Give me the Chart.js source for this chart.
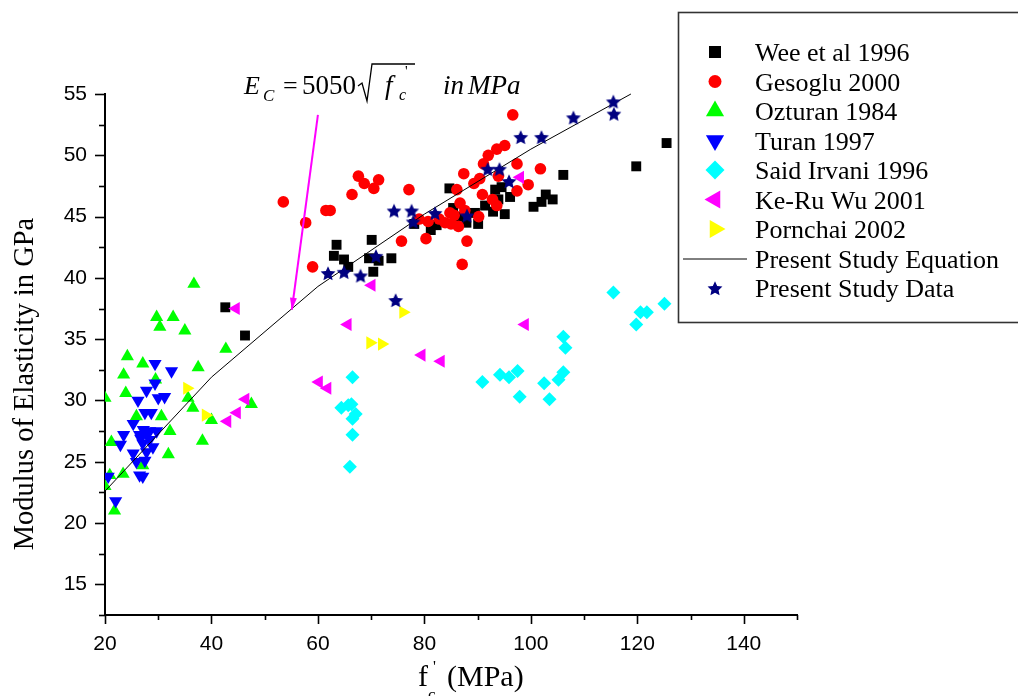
<!DOCTYPE html>
<html>
<head>
<meta charset="utf-8">
<script src="https://cdn.jsdelivr.net/npm/chart.js@4.4.1/dist/chart.umd.min.js"></script>
<style>
  html, body { margin: 0; padding: 0; background: #fff; }
  #wrap { width: 1018px; height: 696px; }
</style>
</head>
<body>
<div id="wrap"><canvas id="chart" width="1018" height="696"></canvas></div>
<script>
// values: x = f'c (MPa), y = Ec (GPa)
const weeX = [42.6,46.3,63.5,63.0,64.9,65.7,70.1,69.6,71.4,73.8,70.4,78.1,81.2,82.3,84.7,85.4,86.5,87.9,89.5,90.1,91.4,93.3,94.5,92.9,93.9,95.1,96.1,100.5,102.0,102.8,104.1,106.1,119.8,125.5];
const weeY = [37.6,35.3,42.7,41.8,41.5,40.9,43.1,41.6,41.4,41.6,40.5,44.4,43.9,44.3,47.3,45.7,45.0,44.5,45.3,44.4,45.9,47.2,47.4,45.4,46.4,45.2,46.6,45.8,46.2,46.8,46.4,48.4,49.1,51.0];

const gesX = [53.5,57.7,61.5,62.3,59.0,67.6,68.7,71.4,70.5,66.4,77.1,75.7,80.3,79.0,80.7,96.6,95.1,93.6,92.0,91.1,97.4,101.8,87.4,90.4,89.3,93.9,99.5,97.4,86.1,90.9,86.7,87.6,92.8,93.6,90.2,84.8,85.6,83.9,85.0,86.4,82.8,88.0,87.1];
const gesY = [46.2,44.5,45.5,45.5,40.9,48.3,47.7,48.0,47.3,46.8,47.2,43.0,43.2,44.8,44.6,53.3,50.8,50.5,50.0,49.3,49.3,48.9,48.5,48.1,47.7,48.3,47.6,47.1,47.2,46.8,46.1,45.5,46.4,45.9,45.0,45.3,45.1,44.5,44.4,44.2,44.8,43.0,41.1];

const ozX = [36.7,29.7,32.8,30.3,35.0,42.7,24.2,27.1,23.5,37.5,29.5,23.9,20.0,35.6,36.5,47.5,25.9,30.6,40.0,32.2,21.2,38.3,31.9,27.1,20.9,23.4,20.0,21.8];
const ozY = [39.5,36.8,36.8,36.0,35.7,34.2,33.6,33.0,32.1,32.7,31.7,30.6,30.2,30.2,29.4,29.7,28.7,28.7,28.4,27.5,26.6,26.7,25.6,24.7,23.9,24.0,23.0,21.0];

const turX = [29.4,32.5,29.4,27.8,26.2,30.0,31.2,27.5,28.7,25.3,23.5,22.9,26.5,28.4,29.7,27.1,28.4,25.3,27.8,25.9,27.5,26.5,27.1,20.6,22.0,29.0,28.0,27.2,26.7];
const turY = [33.0,32.4,31.4,30.8,30.0,30.2,30.3,29.0,29.0,28.1,27.2,26.4,27.2,27.5,27.5,26.5,26.8,25.7,25.8,25.0,25.1,23.9,23.8,23.8,21.8,26.2,27.3,27.6,26.9];

const saidX = [66.5,64.4,65.7,66.3,67.1,66.5,66.5,66.0,90.9,94.2,95.9,97.5,97.9,102.5,103.5,105.2,106.1,106.1,106.5,115.5,119.8,120.6,121.8,125.1];
const saidY = [31.9,29.4,29.6,29.7,28.9,28.5,27.2,24.6,31.5,32.1,31.9,32.4,30.3,31.4,30.1,31.7,32.3,35.2,34.3,38.8,36.2,37.2,37.2,37.9];

const keruX = [44.6,46.4,44.8,43.0,70.1,65.6,98.9,79.5,83.1,60.2,61.8,98.0];
const keruY = [37.5,30.1,29.0,28.3,39.4,36.2,36.2,33.7,33.2,31.5,31.0,48.2];

const pornX = [35.4,38.9,76.0,69.8,72.0];
const pornY = [31.0,28.8,37.2,34.7,34.6];

const eqX = [20,40,60,80,100,118.8];
const eqY = [22.6,31.9,39.3,45.2,50.5,55.0];

const starX = [61.9,64.9,68.0,70.9,74.6,74.3,77.6,77.9,82.0,88.0,91.9,94.1,95.9,98.1,102.0,108.0,115.5,115.6];
const starY = [40.4,40.5,40.2,41.8,38.2,45.5,45.5,44.6,45.3,45.1,48.9,48.9,47.9,51.5,51.5,53.1,54.4,53.4];

const xTicks = [20,40,60,80,100,120,140];
const xMinor = [30,50,70,90,110,130,150];
const yTicks = [15,20,25,30,35,40,45,50,55];
const yMinor = [12.5,17.5,22.5,27.5,32.5,37.5,42.5,47.5,52.5];

const pts = (xs, ys) => xs.map((x, i) => ({x: x, y: ys[i]}));

// filled five point star, chart.js 'star' is only an asterisk
function makeStar(r, color) {
  const c = document.createElement('canvas');
  const s = Math.ceil(r * 2 + 2);
  c.width = s; c.height = s;
  const g = c.getContext('2d');
  g.fillStyle = color;
  g.beginPath();
  for (let i = 0; i < 10; i++) {
    const rr = i % 2 ? r * 0.48 : r;
    const a = -Math.PI / 2 + i * Math.PI / 5;
    g.lineTo(s / 2 + rr * Math.cos(a), s / 2 + 1 + rr * Math.sin(a));
  }
  g.closePath();
  g.fill();
  return c;
}
const starImg = makeStar(7.8, '#000080');

const clipArea = {left: 0, bottom: 0, top: false, right: false};

function markers(label, xs, ys, color, style, radius, rot, order) {
  return {
    label: label,
    data: pts(xs, ys),
    pointStyle: style,
    pointRadius: radius,
    pointRotation: rot,
    pointBackgroundColor: color,
    pointBorderWidth: 0,
    showLine: false,
    order: order,
    clip: clipArea
  };
}

const datasets = [
  markers('Wee et al 1996', weeX, weeY, '#000000', 'rect', 7, 0, 9),
  markers('Gesoglu 2000', gesX, gesY, '#ff0000', 'circle', 5.8, 0, 8),
  markers('Ozturan 1984', ozX, ozY, '#00ff00', 'triangle', 7.6, 0, 7),
  markers('Turan 1997', turX, turY, '#0000ff', 'triangle', 7.6, 180, 6),
  markers('Said Irvani 1996', saidX, saidY, '#00ffff', 'rectRot', 7, 0, 5),
  markers('Ke-Ru Wu 2001', keruX, keruY, '#ff00ff', 'triangle', 7.6, 270, 4),
  markers('Pornchai 2002', pornX, pornY, '#ffff00', 'triangle', 7.6, 90, 3),
  {
    label: 'Present Study Equation',
    data: pts(eqX, eqY),
    showLine: true,
    borderColor: '#000',
    borderWidth: 1,
    pointRadius: 0,
    fill: false,
    tension: 0,
    order: 2,
    clip: false
  },
  markers('Present Study Data', starX, starY, '#000080', starImg, 7.8, 0, 1)
];

const serif = '"Liberation Serif", "Times New Roman", serif';
const sans = '"Liberation Sans", Arial, sans-serif';

// ticks, axis titles, equation label, arrow and the legend box
const decor = {
  id: 'decor',
  afterDraw(chart) {
    const ctx = chart.ctx;
    const xs = chart.scales.x, ys = chart.scales.y, a = chart.chartArea;
    ctx.save();
    ctx.strokeStyle = '#000';
    ctx.lineWidth = 1.6;
    xTicks.concat(xMinor).forEach(v => {
      const px = Math.round(xs.getPixelForValue(v)) + 0.5;
      const len = xTicks.includes(v) ? 9 : 5;
      ctx.beginPath(); ctx.moveTo(px, a.bottom); ctx.lineTo(px, a.bottom + len); ctx.stroke();
    });
    yTicks.concat(yMinor).forEach(v => {
      const py = Math.round(ys.getPixelForValue(v)) + 0.5;
      const len = yTicks.includes(v) ? 10 : 6;
      ctx.beginPath(); ctx.moveTo(a.left, py); ctx.lineTo(a.left - len, py); ctx.stroke();
    });

    // y title
    ctx.fillStyle = '#000';
    ctx.save();
    ctx.translate(33, 384);
    ctx.rotate(-Math.PI / 2);
    ctx.font = '28.5px ' + serif;
    ctx.textAlign = 'center';
    ctx.textBaseline = 'alphabetic';
    ctx.fillText('Modulus of Elasticity in GPa', 0, 0);
    ctx.restore();

    // x title  f'c (MPa)
    ctx.textAlign = 'left';
    ctx.textBaseline = 'alphabetic';
    ctx.font = '30px ' + serif;
    ctx.fillText('f', 418, 686);
    ctx.font = '17px ' + serif;
    ctx.fillText('c', 428, 700);
    ctx.font = '16px ' + serif;
    ctx.fillText("'", 433, 672);
    ctx.font = '30px ' + serif;
    ctx.fillText('(MPa)', 447, 686);

    // equation label
    ctx.font = 'italic 26px ' + serif;
    ctx.fillText('E', 244, 94);
    ctx.font = 'italic 17px ' + serif;
    ctx.fillText('C', 263, 101);
    ctx.font = '26px ' + serif;
    ctx.fillText('=', 283, 94);
    ctx.font = '27px ' + serif;
    ctx.fillText('5050', 302, 94);
    ctx.lineWidth = 1.3;
    ctx.beginPath();
    ctx.moveTo(358, 86); ctx.lineTo(362, 83); ctx.lineTo(367, 101); ctx.lineTo(372, 64); ctx.lineTo(415, 64);
    ctx.stroke();
    ctx.font = 'italic 27px ' + serif;
    ctx.fillText('f', 385, 94);
    ctx.font = 'italic 16px ' + serif;
    ctx.fillText('c', 399, 100);
    ctx.font = '15px ' + serif;
    ctx.fillText("'", 405, 76);
    ctx.font = 'italic 27px ' + serif;
    ctx.fillText('in', 443, 94);
    ctx.fillText('MPa', 468, 94);

    // magenta arrow onto the equation line
    const x0 = xs.getPixelForValue(60.0), y0 = ys.getPixelForValue(53.3);
    const x1 = xs.getPixelForValue(55.1), y1 = ys.getPixelForValue(37.4);
    ctx.strokeStyle = '#ff00ff';
    ctx.fillStyle = '#ff00ff';
    ctx.lineWidth = 2;
    ctx.beginPath(); ctx.moveTo(x0, y0); ctx.lineTo(x1, y1); ctx.stroke();
    const ang = Math.atan2(y1 - y0, x1 - x0);
    ctx.beginPath();
    ctx.moveTo(x1, y1);
    ctx.lineTo(x1 - 12 * Math.cos(ang) + 3.5 * Math.sin(ang), y1 - 12 * Math.sin(ang) - 3.5 * Math.cos(ang));
    ctx.lineTo(x1 - 12 * Math.cos(ang) - 3.5 * Math.sin(ang), y1 - 12 * Math.sin(ang) + 3.5 * Math.cos(ang));
    ctx.closePath();
    ctx.fill();

    // legend
    ctx.strokeStyle = '#333';
    ctx.lineWidth = 1.6;
    ctx.strokeRect(678.5, 12.5, 360, 310);
    const sizes = [8.5, 6.5, 10.5, 10.5, 9.5, 10.5, 10.5, 0, 7.8];
    ctx.font = '26px ' + serif;
    datasets.forEach((ds, i) => {
      const y = 52 + i * 29.5;
      if (ds.showLine) {
        ctx.strokeStyle = '#000';
        ctx.lineWidth = 1;
        ctx.beginPath(); ctx.moveTo(683, y + 0.5); ctx.lineTo(747, y + 0.5); ctx.stroke();
      } else {
        ctx.fillStyle = ds.pointBackgroundColor;
        Chart.helpers.drawPoint(ctx, {
          pointStyle: ds.pointStyle,
          radius: sizes[i],
          rotation: ds.pointRotation,
          borderWidth: 0
        }, 715, y);
      }
      ctx.fillStyle = '#000';
      ctx.textBaseline = 'alphabetic';
      ctx.fillText(ds.label, 755, y + 9);
    });
    ctx.restore();
  }
};

new Chart(document.getElementById('chart'), {
  type: 'scatter',
  data: {datasets: datasets},
  options: {
    responsive: false,
    devicePixelRatio: 1,
    animation: false,
    events: [],
    layout: {padding: {top: 94, right: 221, left: 0, bottom: 0}},
    plugins: {legend: {display: false}, tooltip: {enabled: false}},
    scales: {
      x: {
        type: 'linear',
        min: 20,
        max: 150,
        afterBuildTicks: s => { s.ticks = xTicks.map(v => ({value: v})); },
        afterFit: s => { s.height = 81; },
        grid: {display: false, drawTicks: false},
        border: {display: true, color: '#000', width: 2},
        ticks: {color: '#000', padding: 17, maxRotation: 0, font: {family: sans, size: 21}}
      },
      y: {
        type: 'linear',
        min: 12.5,
        max: 55,
        afterBuildTicks: s => { s.ticks = yTicks.map(v => ({value: v})); },
        afterFit: s => { s.width = 105; },
        grid: {display: false, drawTicks: false},
        border: {display: true, color: '#000', width: 2},
        ticks: {color: '#000', padding: 18, font: {family: sans, size: 21}}
      }
    }
  },
  plugins: [decor]
});
</script>
</body>
</html>
